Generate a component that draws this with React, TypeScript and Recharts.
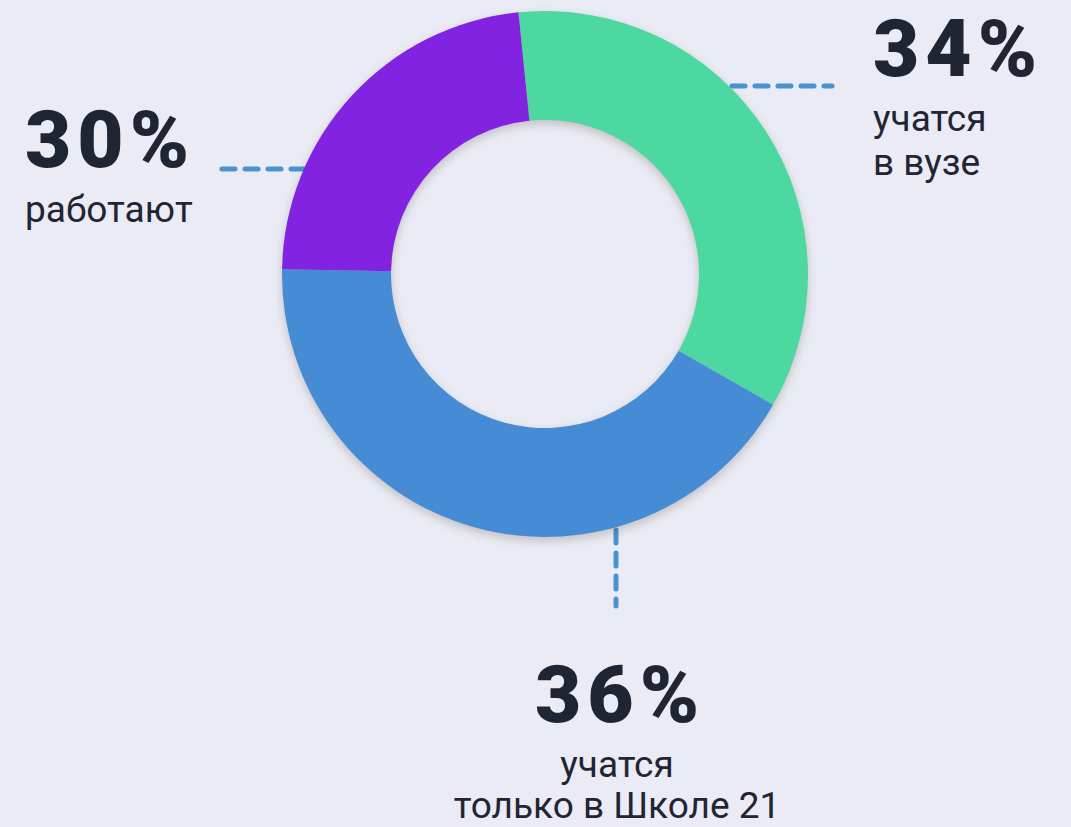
import { PieChart, Pie, Cell } from 'recharts'

// slice shares as drawn (angles), and the printed labels
const segments = ['учатся в вузе', 'учатся только в Школе 21', 'работают']
const sliceShares = [34.9, 42.0, 23.1]
const labelPercents = ['34%', '36%', '30%']
const captionLines = [['учатся', 'в вузе'], ['учатся', 'только в Школе 21'], ['работают']]

const colors = ['#4ED8A1', '#458CD5', '#8123E0']
const textColor = '#1F2533'
const leaderColor = '#4A93D0'

const chartData = segments.map((name, i) => ({ name, value: sliceShares[i] }))

// where each label block sits (x, baseline of the percent, anchor)
const labelLayout = [
  { x: 873, y: 76, anchor: 'start' },
  { x: 617, y: 722, anchor: 'middle' },
  { x: 25, y: 167, anchor: 'start' },
]

const leaders = [
  { x1: 732, y1: 86, x2: 832, y2: 86 },
  { x1: 616, y1: 530, x2: 616, y2: 606 },
  { x1: 222, y1: 169, x2: 310, y2: 169 },
]

export default function App() {
  return (
    <div
      style={{
        position: 'absolute',
        left: 0,
        top: 0,
        width: 1071,
        height: 827,
        background: '#EAEBF4',
        overflow: 'hidden',
        fontFamily: 'Roboto, sans-serif',
      }}
    >
      <svg width={1071} height={827} style={{ position: 'absolute', left: 0, top: 0 }}>
        {leaders.map((l, i) => (
          <line
            key={i}
            {...l}
            stroke={leaderColor}
            strokeWidth={5}
            strokeDasharray="13 10"
            strokeLinecap="round"
          />
        ))}
        {labelLayout.map((pos, i) => (
          <g key={i} fill={textColor}>
            <text
              x={pos.x + (pos.anchor === 'middle' ? 3 : 0)}
              y={pos.y}
              textAnchor={pos.anchor as any}
              fontSize={80}
              fontWeight={900}
              letterSpacing={6}
            >
              {labelPercents[i]}
            </text>
            {captionLines[i].map((line, j) => (
              <text
                key={j}
                x={pos.x}
                y={pos.y + 55 + j * (i === 1 ? 41 : 44)}
                textAnchor={pos.anchor as any}
                fontSize={37}
                fontWeight={400}
              >
                {line}
              </text>
            ))}
          </g>
        ))}
      </svg>
      <div
        style={{
          position: 'absolute',
          left: 0,
          top: 0,
          filter: 'drop-shadow(0px 4px 5px rgba(60, 40, 30, 0.22))',
        }}
      >
        <PieChart width={1071} height={827} margin={{ top: 0, right: 0, bottom: 0, left: 0 }}>
          <Pie
            data={chartData}
            dataKey="value"
            nameKey="name"
            cx={545}
            cy={274}
            innerRadius={154}
            outerRadius={263}
            startAngle={95.8}
            endAngle={95.8 - 360}
            stroke="none"
            isAnimationActive={false}
          >
            {chartData.map((entry, index) => (
              <Cell key={`cell-${index}`} fill={colors[index]} />
            ))}
          </Pie>
        </PieChart>
      </div>
    </div>
  )
}
